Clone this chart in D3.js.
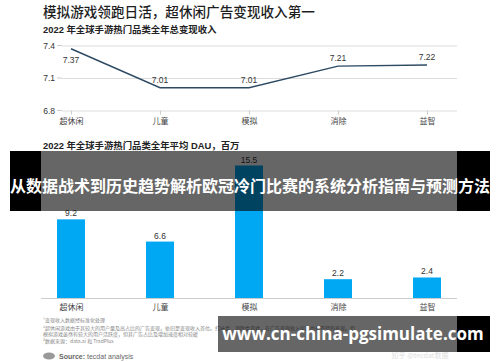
<!DOCTYPE html>
<html>
<head>
<meta charset="utf-8">
<script src="https://cdn.jsdelivr.net/npm/d3@7"></script>
<style>
  body { margin: 0; background: #fff; }
  svg { display: block; font-family: 'Liberation Sans', 'Noto Sans CJK SC', sans-serif; }
</style>
</head>
<body>
<script>
const categories = ['超休闲', '儿童', '模拟', '消除', '益智'];
const revenue = [7.37, 7.01, 7.01, 7.21, 7.22];
const revenueTicks = [6.8, 7.1, 7.4];
const dau = [9.2, 6.6, 15.5, 2.2, 2.4];

const lineColor = '#2d4a63';
const barColor = '#00a8f3';
const width = 500;
const height = 362;
const cjk = "'Noto Sans CJK SC', sans-serif";

const svg = d3.select('body')
  .append('svg')
  .attr('width', width)
  .attr('height', height);

svg.append('text')
  .attr('x', 43).attr('y', 17)
  .style('font-family', cjk)
  .style('font-size', '13.6px')
  .style('font-weight', 500)
  .attr('fill', '#1e1e1e')
  .text('模拟游戏领跑日活，超休闲广告变现收入第一');

svg.append('text')
  .attr('x', 43).attr('y', 33)
  .style('font-size', '9.4px')
  .style('font-weight', 'bold')
  .attr('fill', '#222')
  .text('2022 年全球手游热门品类全年总变现收入');

// line chart
const x = d3.scalePoint().domain(categories).range([71, 427]);
const yLine = d3.scaleLinear().domain([6.8, 7.4]).range([110.5, 45.5]);

const grid = svg.append('g')
  .attr('transform', 'translate(62,0)')
  .call(d3.axisLeft(yLine).tickValues(revenueTicks).tickSize(-395).tickPadding(7).tickFormat(d3.format('.1f')));
grid.select('.domain').remove();
grid.selectAll('line').attr('stroke', '#dcdcdc');
grid.selectAll('text').attr('fill', '#333').style('font-size', '8.5px');
grid.append('g').selectAll('line')
  .data(revenueTicks).join('line')
  .attr('x1', -5).attr('x2', 0)
  .attr('y1', d => yLine(d)).attr('y2', d => yLine(d))
  .attr('stroke', '#ccc');

const xAxisTop = svg.append('g')
  .attr('transform', 'translate(0,110.5)')
  .call(d3.axisBottom(x).tickSize(4).tickPadding(4));
xAxisTop.select('.domain').remove();
xAxisTop.selectAll('line').attr('stroke', '#ccc');
xAxisTop.selectAll('text').attr('fill', '#444').style('font-size', '8px').style('font-family', cjk);

svg.append('path')
  .datum(revenue)
  .attr('fill', 'none')
  .attr('stroke', lineColor)
  .attr('stroke-width', 1.4)
  .attr('d', d3.line().x((d, i) => x(categories[i])).y(d => yLine(d)));

svg.append('g').selectAll('text')
  .data(revenue).join('text')
  .attr('x', (d, i) => x(categories[i]))
  .attr('y', (d, i) => yLine(d) + (i === 0 ? 14 : -5))
  .attr('text-anchor', 'middle')
  .style('font-size', '8.5px')
  .attr('fill', '#333')
  .text(d => d3.format('.2f')(d));

// bar chart
svg.append('text')
  .attr('x', 43).attr('y', 149)
  .style('font-size', '9.4px')
  .style('font-weight', 'bold')
  .attr('fill', '#222')
  .text('2022 年全球手游热门品类全年平均 DAU，百万');

const yBar = d3.scaleLinear().domain([0, 15.5]).range([298, 165.5]);
const barW = 28;

svg.append('g').selectAll('rect')
  .data(dau).join('rect')
  .attr('x', (d, i) => x(categories[i]) - barW / 2)
  .attr('y', d => yBar(d))
  .attr('width', barW)
  .attr('height', d => yBar(0) - yBar(d))
  .attr('fill', barColor);

svg.append('g').selectAll('text')
  .data(dau).join('text')
  .attr('x', (d, i) => x(categories[i]))
  .attr('y', d => yBar(d) - 3)
  .attr('text-anchor', 'middle')
  .style('font-size', '8.5px')
  .attr('fill', '#333')
  .text(d => d3.format('.1f')(d));

const xAxisBar = svg.append('g')
  .attr('transform', 'translate(0,298)')
  .call(d3.axisBottom(x).tickSize(0).tickPadding(6));
xAxisBar.select('.domain').remove();
xAxisBar.selectAll('text').attr('fill', '#444').style('font-size', '8px').style('font-family', cjk);
svg.append('line')
  .attr('x1', 41).attr('x2', 457)
  .attr('y1', 298.5).attr('y2', 298.5)
  .attr('stroke', '#ccc');

// footnotes
const notes = [
  '¹变现收入数据经标准化处理',
  '²超休闲游戏由于其较大的用户量及高占比的广告变现，依旧是变现收入首位。打叶类、消除类游戏，在广告变现收入层面也有不错的表现。但',
  '  模拟游戏虽然有较大的用户活跃度，但其广告占比及增加速度相对较缓',
  '³数据来源：data.ai 和 TradPlus'
];
const noteY = [322, 329.5, 335.5, 343];
svg.append('g').selectAll('text')
  .data(notes).join('text')
  .attr('x', 43)
  .attr('y', (d, i) => noteY[i])
  .style('font-family', cjk)
  .style('font-size', '5px')
  .attr('fill', '#888')
  .text(d => d);

svg.append('ellipse')
  .attr('cx', 49).attr('cy', 356).attr('rx', 6).attr('ry', 3.5)
  .attr('fill', '#999');
svg.append('text')
  .attr('x', 59).attr('y', 359)
  .style('font-size', '7px')
  .attr('fill', '#666')
  .html('<tspan font-weight="bold">Source:</tspan> tecdat analysis');

svg.append('text')
  .attr('x', 420).attr('y', 358)
  .attr('text-anchor', 'middle')
  .style('font-family', cjk)
  .style('font-size', '7px')
  .attr('fill', '#ddd')
  .text('知乎 @tecdat数据');

// overlays: opaque black at the sides, translucent over the chart
svg.append('rect').attr('x', 10).attr('y', 151).attr('width', 31).attr('height', 60).attr('fill', '#000');
svg.append('rect').attr('x', 457).attr('y', 151).attr('width', 33).attr('height', 60).attr('fill', '#000');
svg.append('rect').attr('x', 41).attr('y', 151).attr('width', 416).attr('height', 60)
  .attr('fill', '#000').attr('fill-opacity', 0.6);
svg.append('text')
  .attr('x', 250).attr('y', 192)
  .attr('text-anchor', 'middle')
  .style('font-family', cjk)
  .style('font-size', '16px')
  .style('font-weight', 'bold')
  .attr('fill', '#fff')
  .text('从数据战术到历史趋势解析欧冠冷门比赛的系统分析指南与预测方法');

svg.append('rect').attr('x', 457).attr('y', 316).attr('width', 33).attr('height', 36).attr('fill', '#000');
svg.append('rect').attr('x', 218).attr('y', 316).attr('width', 239).attr('height', 36)
  .attr('fill', '#000').attr('fill-opacity', 0.6);
svg.append('text')
  .attr('x', 353).attr('y', 340)
  .attr('text-anchor', 'middle')
  .style('font-family', "'Open Sans', sans-serif")
  .style('font-size', '17px')
  .style('font-weight', 'bold')
  .attr('fill', '#fff')
  .text('www.cn-china-pgsimulate.com');
</script>
</body>
</html>
